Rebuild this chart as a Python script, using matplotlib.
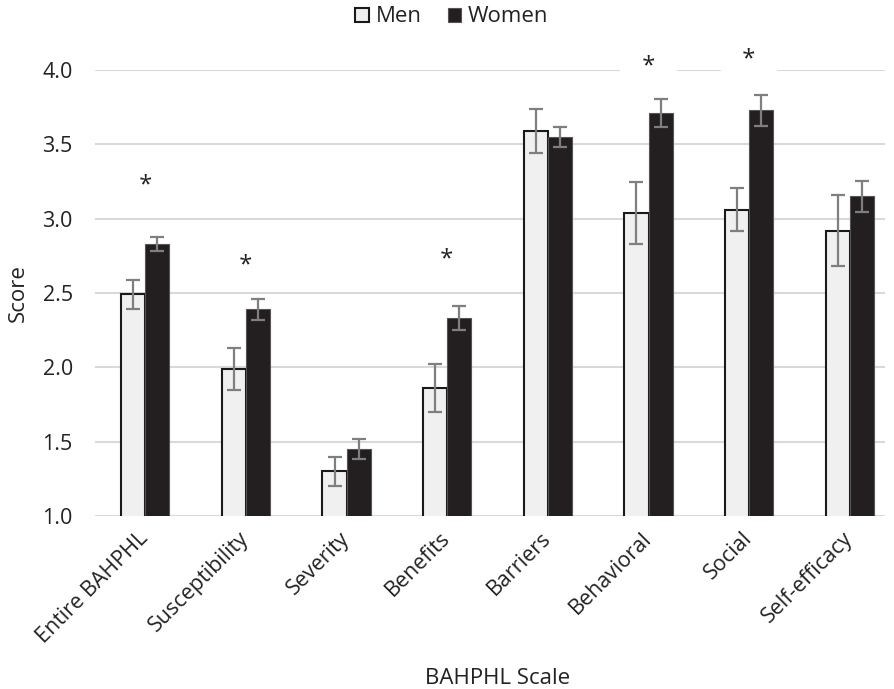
import numpy as np
import matplotlib.pyplot as plt

plt.rcParams['font.family'] = ['Open Sans', 'DejaVu Sans']

categories = ["Entire BAHPHL", "Susceptibility", "Severity", "Benefits",
              "Barriers", "Behavioral", "Social", "Self-efficacy"]
men = [2.49, 1.99, 1.30, 1.86, 3.59, 3.04, 3.06, 2.92]
men_err = [0.10, 0.14, 0.10, 0.16, 0.15, 0.21, 0.145, 0.24]
women = [2.83, 2.39, 1.45, 2.33, 3.55, 3.71, 3.73, 3.15]
women_err = [0.05, 0.07, 0.065, 0.08, 0.065, 0.095, 0.105, 0.105]
# significance markers: (category index, y position)
stars = [(0, 3.22), (1, 2.68), (3, 2.72), (5, 4.02), (6, 4.07)]

fig = plt.figure(figsize=(8.94, 6.89), dpi=100)
ax = fig.add_axes([95 / 894, 1 - 516 / 689, (885 - 95) / 894, (516 - 70) / 689])

x = np.arange(len(categories))
w = 0.24
err_kw = dict(ecolor="#7f7f7f", elinewidth=1.6, capsize=5, capthick=1.6)

ax.bar(x - w / 2, men, w, yerr=men_err, color="#f0f0f0", edgecolor="#1a1a1a",
       linewidth=1.5, error_kw=err_kw, label="Men", zorder=2)
ax.bar(x + w / 2, women, w, yerr=women_err, color="#231f20", edgecolor="#555555",
       linewidth=0.8, error_kw=err_kw, label="Women", zorder=2)

for i, y in stars:
    ax.text(i, y, "  *  ", ha="center", va="center", fontsize=17,
            color="#222222", zorder=4, clip_on=False,
            bbox=dict(boxstyle="square,pad=0.4", facecolor="white",
                      edgecolor="none"))

ax.set_xlim(-0.5, 7.35)
ax.set_ylim(1.0, 4.0)
ticks = np.arange(1.0, 4.01, 0.5)
ax.set_yticks(ticks)
ax.set_yticklabels([f"{v:.1f}" for v in ticks])
ax.yaxis.grid(True, color="#d9d9d9", linewidth=1.5, zorder=0)
ax.set_axisbelow(True)
for s in ax.spines.values():
    s.set_visible(False)
ax.tick_params(axis="both", length=0, labelsize=15.5, colors="#222222")
ax.tick_params(axis="y", pad=16)

ax.set_xticks(x)
ax.set_xticklabels(categories, rotation=45, ha="right", va="center",
                   rotation_mode="anchor")
ax.tick_params(axis="x", pad=14)

ax.set_ylabel("Score", fontsize=16, color="#222222")
ax.yaxis.set_label_coords(-77 / 790, 0.5)
ax.yaxis.label.set_verticalalignment("center")
ax.set_xlabel("BAHPHL Scale", fontsize=16, color="#222222")
ax.xaxis.set_label_coords(0.509, -162 / 446)
ax.xaxis.label.set_verticalalignment("center")

fig.legend(*ax.get_legend_handles_labels(), loc="center",
           bbox_to_anchor=(452 / 894, 1 - 17 / 689), ncol=2, frameon=False,
           fontsize=16, handlelength=0.6, handleheight=0.6, handletextpad=0.3,
           columnspacing=1.2, labelcolor="#222222", borderpad=0)

fig.savefig("out.png", dpi=100)
